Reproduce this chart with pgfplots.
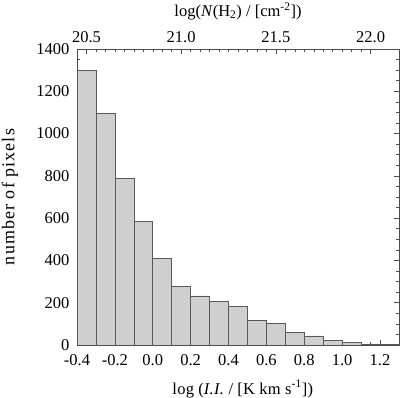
\documentclass[border=0pt]{standalone}
\usepackage{pgfplots}
\pgfplotsset{compat=1.18}
\usepackage{fontspec}
\setmainfont{Liberation Serif}
\begin{document}
\begin{tikzpicture}[font=\fontsize{16.5}{19}\selectfont]
\pgfplotsset{
  every axis/.append style={
    scale only axis, width=322pt, height=296pt,
    /pgf/number format/assume math mode=true,
    tick style={black!70, line width=0.5pt},
    axis line style={black!70, line width=0.7pt},
    major tick length=5pt, minor tick length=3pt,
    tick align=inside,
  }
}
\begin{axis}[
  xmin=-0.4, xmax=1.3, ymin=0, ymax=1400,
  xtick={-0.4,-0.2,...,1.21},
  minor x tick num=3,
  ytick={0,200,...,1400},
  minor y tick num=3,
  xticklabel style={yshift=-6pt, /pgf/number format/.cd, fixed, fixed zerofill, precision=1},
  yticklabel style={xshift=-4pt, /pgf/number format/.cd, fixed, 1000 sep={}},
  xtick pos=bottom, ytick pos=both,
  xlabel={\addfontfeature{LetterSpace=1.5}log (\textit{I.I.} / [K km s\textsuperscript{-1}])},
  ylabel={\fontsize{18}{20}\selectfont\addfontfeature{LetterSpace=6}number of pixels},
  xlabel style={at={(axis description cs:0.515,-0.1486)}, anchor=center},
  ylabel style={at={(axis description cs:-0.208,0.5)}, anchor=center},
]
\addplot[ybar interval, fill=black!19, draw=black!65, line width=0.6pt] coordinates {
(-0.4,1300) (-0.3,1095) (-0.2,788) (-0.1,583) (0.0,410) (0.1,279) (0.2,232)
(0.3,207) (0.4,181) (0.5,118) (0.6,101) (0.7,58) (0.8,43) (0.9,22) (1.0,11)
(1.1,3) (1.2,2) (1.3,2)};
\end{axis}
\begin{axis}[
  xmin=20.45, xmax=22.15, ymin=0, ymax=1400,
  axis x line*=top, axis y line=none,
  xtick={20.5,21.0,21.5,22.0},
  minor x tick num=9,
  xticklabel style={yshift=3pt, /pgf/number format/.cd, fixed, fixed zerofill, precision=1},
  xlabel={log(\textit{N}(H\textsubscript{2}) / [cm\textsuperscript{-2}])},
  xlabel style={at={(axis description cs:0.5,1.128)}, anchor=center},
]
\addplot[draw=none] coordinates {(20.5,0) (22.0,0)};
\end{axis}
\pgfresetboundingbox
\path[use as bounding box] (-77pt,-53pt) rectangle (323pt,345pt);
\end{tikzpicture}
\end{document}
